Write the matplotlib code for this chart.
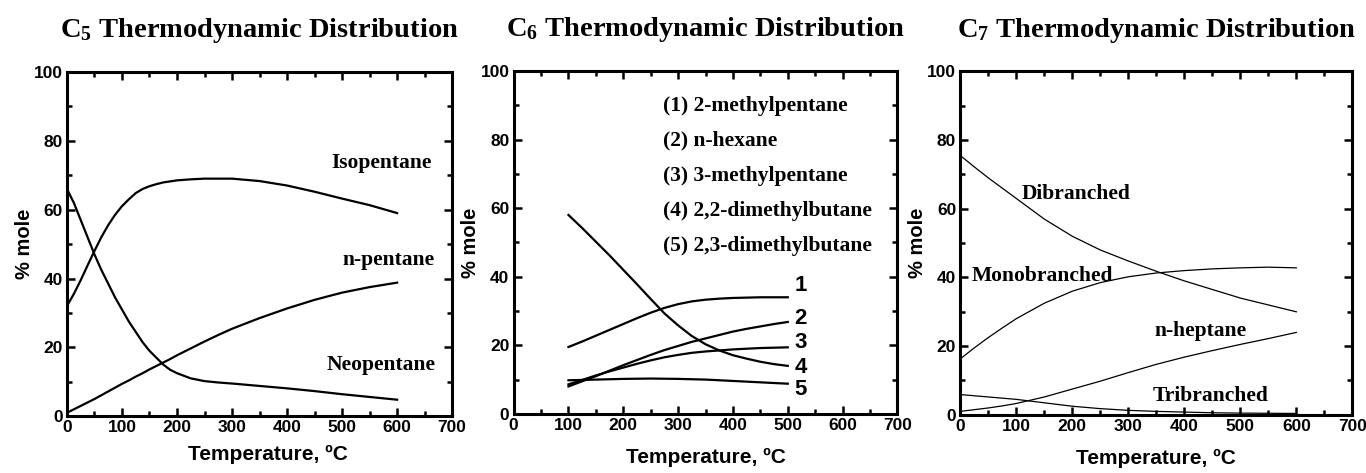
import matplotlib
matplotlib.use("Agg")
import matplotlib.pyplot as plt

plt.rcParams["font.family"] = ["Liberation Sans", "DejaVu Sans"]
plt.rcParams["mathtext.fontset"] = "custom"
plt.rcParams["mathtext.rm"] = "Liberation Serif:bold"
plt.rcParams["mathtext.bf"] = "Liberation Serif:bold"
plt.rcParams["mathtext.it"] = "Liberation Serif:bold"

SERIF = ["Liberation Serif", "DejaVu Serif"]

# C5
c5_temp = [0, 12.5, 25, 37.5, 50, 62.5, 75, 87.5, 100, 112.5, 125, 137.5, 150, 162.5, 175, 187.5,
           200, 225, 250, 275, 300, 350, 400, 450, 500, 550, 600]
c5_iso = [32, 35.5, 39.5, 43.8, 48, 52, 55.5, 58.5, 61, 63, 64.8, 66, 66.8, 67.4, 67.9, 68.2,
          68.5, 68.8, 69.0, 69.0, 69.0, 68.3, 67.0, 65.2, 63.2, 61.3, 59.0]
c5_neo = [66, 62, 57, 52, 47, 42.5, 38.5, 34.5, 31, 27.5, 24.5, 21.5, 19, 17, 15, 13.5,
          12.5, 11, 10.2, 9.8, 9.5, 8.8, 8.1, 7.3, 6.4, 5.6, 4.8]
c5_npent = [1, 2, 3, 4, 5, 6.1, 7.2, 8.3, 9.4, 10.4, 11.5, 12.5, 13.6, 14.6, 15.6, 16.6,
            17.7, 19.7, 21.7, 23.6, 25.4, 28.5, 31.3, 33.8, 35.9, 37.5, 38.8]

# C6
c6_temp = [100, 125, 150, 175, 200, 225, 250, 275, 300, 325, 350, 375, 400, 425, 450, 475, 500]
c6_2mp = [19.5, 21.1, 22.8, 24.5, 26.2, 27.9, 29.5, 30.9, 32.0, 32.8, 33.3, 33.6, 33.8, 33.9, 34.0, 34.0, 34.0]
c6_nhex = [8.0, 9.5, 11.0, 12.6, 14.2, 15.7, 17.2, 18.6, 19.8, 21.0, 22.0, 23.0, 24.0, 24.8, 25.5, 26.2, 26.8]
c6_3mp = [8.6, 9.9, 11.2, 12.4, 13.5, 14.6, 15.6, 16.5, 17.2, 17.8, 18.2, 18.5, 18.8, 19.0, 19.2, 19.3, 19.4]
c6_22dmb = [58, 54.2, 50.2, 46.2, 42, 37.8, 33.5, 29.3, 25.8, 22.7, 20.3, 18.5, 17.1, 16.1, 15.2, 14.5, 14.0]
c6_23dmb = [9.8, 9.9, 10.0, 10.1, 10.2, 10.25, 10.3, 10.25, 10.2, 10.1, 10.0, 9.8, 9.6, 9.4, 9.2, 9.0, 8.8]
c6_legend = ["(1) 2-methylpentane", "(2) n-hexane", "(3) 3-methylpentane",
             "(4) 2,2-dimethylbutane", "(5) 2,3-dimethylbutane"]
c6_numbers = ["1", "2", "3", "4", "5"]
c6_number_y = [37.4, 27.7, 20.9, 13.6, 7.1]

# C7
c7_temp = [0, 25, 50, 75, 100, 150, 200, 250, 300, 350, 400, 450, 500, 550, 600]
c7_di = [75.5, 72.2, 69, 66, 63, 57, 52, 48, 44.8, 41.8, 39, 36.5, 34, 32, 30]
c7_mono = [16.3, 19.5, 22.5, 25.3, 28, 32.5, 36, 38.5, 40.2, 41.3, 42, 42.5, 42.8, 43, 42.8]
c7_nhep = [1, 1.5, 2, 2.6, 3.3, 5.2, 7.5, 9.8, 12.3, 14.7, 16.8, 18.7, 20.5, 22.2, 24]
c7_tri = [5.9, 5.55, 5.2, 4.85, 4.5, 3.5, 2.5, 1.8, 1.3, 1.0, 0.8, 0.6, 0.5, 0.45, 0.4]


def style_axes(ax, xlabel_pad):
    ax.set_xlim(0, 700)
    ax.set_ylim(0, 100)
    ax.set_xticks(range(0, 701, 100))
    ax.set_xticks(range(0, 701, 50), minor=True)
    ax.set_yticks(range(0, 101, 20))
    ax.set_yticks(range(0, 101, 10), minor=True)
    ax.tick_params(which="both", direction="in", top=True, right=True, width=1.8)
    ax.tick_params(which="major", length=6, labelsize=12.5, pad=3)
    ax.tick_params(which="minor", length=3.5)
    for lab in ax.get_xticklabels() + ax.get_yticklabels():
        lab.set_fontweight("bold")
    for sp in ax.spines.values():
        sp.set_linewidth(2.2)
    ax.set_xlabel("Temperature, ºC", fontsize=15, fontweight="bold", labelpad=xlabel_pad)
    ax.set_ylabel("% mole", fontsize=14.5, fontweight="bold", labelpad=0)


def note(ax, x, y, s, ha="center"):
    ax.text(x, y, s, family=SERIF, fontweight="bold", fontsize=15.5, ha=ha, va="center")


fig = plt.figure(figsize=(13.66, 4.73), dpi=100)
ax1 = fig.add_axes([0.049, 0.12, 0.282, 0.728])
ax2 = fig.add_axes([0.376, 0.125, 0.281, 0.725])
ax3 = fig.add_axes([0.703, 0.123, 0.287, 0.726])

# C5 panel
for y in (c5_iso, c5_neo, c5_npent):
    ax1.plot(c5_temp, y, color="black", lw=1.6)
style_axes(ax1, 1)
ax1.xaxis.set_label_coords(0.522, -0.082)
note(ax1, 572, 73.5, "Isopentane")
note(ax1, 585, 45.3, "n-pentane")
note(ax1, 570, 15, "Neopentane")

# C6 panel
for y in (c6_2mp, c6_nhex, c6_3mp, c6_22dmb, c6_23dmb):
    ax2.plot(c6_temp, y, color="black", lw=1.6)
style_axes(ax2, 11)
for i, txt in enumerate(c6_legend):
    note(ax2, 273, 89.8 - i * 10.2, txt, ha="left")
for num, yy in zip(c6_numbers, c6_number_y):
    ax2.text(523, yy, num, fontweight="bold", fontsize=16, ha="center", va="center")

# C7 panel
for y in (c7_di, c7_mono, c7_nhep, c7_tri):
    ax3.plot(c7_temp, y, color="black", lw=0.9)
style_axes(ax3, 11)
note(ax3, 207, 64.4, "Dibranched")
note(ax3, 146, 40.4, "Monobranched")
note(ax3, 429, 24.4, "n-heptane")
note(ax3, 447, 5.4, "Tribranched")

for ax, n in ((ax1, 5), (ax2, 6), (ax3, 7)):
    ax.set_title(r"C$_{%d}$ Thermodynamic Distribution" % n, family=SERIF, fontweight="bold",
                 fontsize=20.5, pad=25)

fig.savefig("out.png", dpi=100)
plt.close(fig)
